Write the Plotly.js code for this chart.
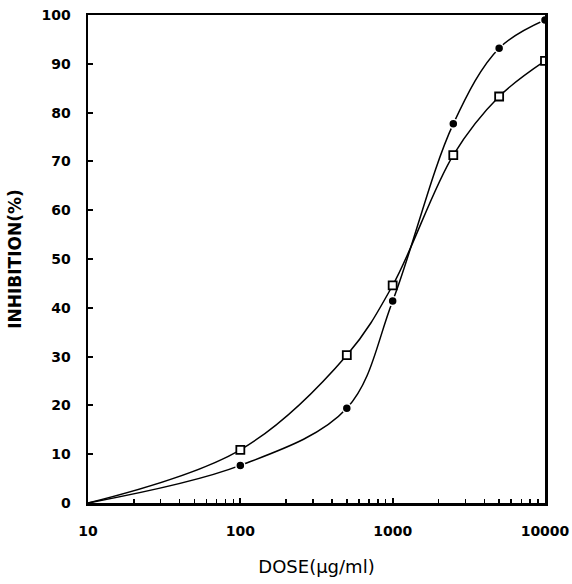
<!DOCTYPE html>
<html>
<head>
<meta charset="utf-8">
<script src="https://cdn.plot.ly/plotly-3.0.1.min.js"></script>
<style>html,body{margin:0;padding:0;background:#fff;}#chart{width:572px;height:584px;}</style>
</head>
<body>
<div id="chart"></div>
<script>
// Data
var doses = [100, 500, 1000, 2500, 5000, 10000];
var filledCircle = [7.7, 19.4, 41.4, 77.7, 93.2, 99.0];
var openSquare = [10.9, 30.3, 44.6, 71.3, 83.3, 90.6];
var startDose = 10;
var startInhibition = 0;
var xTickVals = [10, 100, 1000, 10000];
var xTickText = ['10', '100', '1000', '10000'];
var xMinorTickVals = [20, 30, 40, 50, 60, 70, 80, 90,
                      200, 300, 400, 500, 600, 700, 800, 900,
                      2000, 3000, 4000, 5000, 6000, 7000, 8000, 9000];
var yTickVals = [0, 10, 20, 30, 40, 50, 60, 70, 80, 90, 100];

var lineX = [startDose].concat(doses);
var traces = [
  {x: lineX, y: [startInhibition].concat(filledCircle), mode: 'lines', line: {shape: 'spline', smoothing: 1, color: '#000', width: 1.5}, hoverinfo: 'skip'},
  {x: lineX, y: [startInhibition].concat(openSquare), mode: 'lines', line: {shape: 'spline', smoothing: 1, color: '#000', width: 1.5}, hoverinfo: 'skip'},
  {x: doses, y: filledCircle, mode: 'markers', marker: {symbol: 'circle', size: 9, color: '#000', line: {color: '#fff', width: 1.5}}},
  {x: doses, y: openSquare, mode: 'markers', marker: {symbol: 'square', size: 8, color: '#fff', line: {color: '#000', width: 1.8}}}
];

var fam = 'DejaVu Sans, Liberation Sans, sans-serif';
var tickFont = {family: fam, size: 14, color: '#000', weight: 'bold'};
var layout = {
  width: 572, height: 584,
  margin: {l: 88, r: 27, t: 15, b: 81},
  showlegend: false,
  paper_bgcolor: '#fff', plot_bgcolor: '#fff',
  xaxis: {
    type: 'log', range: [1, 4],
    tickvals: xTickVals, ticktext: xTickText,
    ticks: 'inside', ticklen: 5, tickwidth: 2, tickcolor: '#000',
    minor: {tickvals: xMinorTickVals, ticks: 'inside', ticklen: 4, tickwidth: 1.5, tickcolor: '#000', showgrid: false},
    showline: true, linewidth: 2.5, linecolor: '#000', mirror: true,
    showgrid: false, zeroline: false,
    tickfont: tickFont, ticklabelstandoff: 14,
    title: {text: 'DOSE(µg/ml)', font: {family: fam, size: 18, color: '#000'}, standoff: 22}
  },
  yaxis: {
    range: [0, 100],
    tickvals: yTickVals,
    ticks: 'inside', ticklen: 5, tickwidth: 2, tickcolor: '#000',
    showline: true, linewidth: 2.5, linecolor: '#000', mirror: true,
    showgrid: false, zeroline: false,
    tickfont: tickFont, ticklabelstandoff: 12,
    title: {text: 'INHIBITION(%)', font: {family: fam, size: 17, color: '#000', weight: 'bold'}, standoff: 16}
  }
};
Plotly.newPlot('chart', traces, layout, {staticPlot: true, displayModeBar: false});
</script>
</body>
</html>
